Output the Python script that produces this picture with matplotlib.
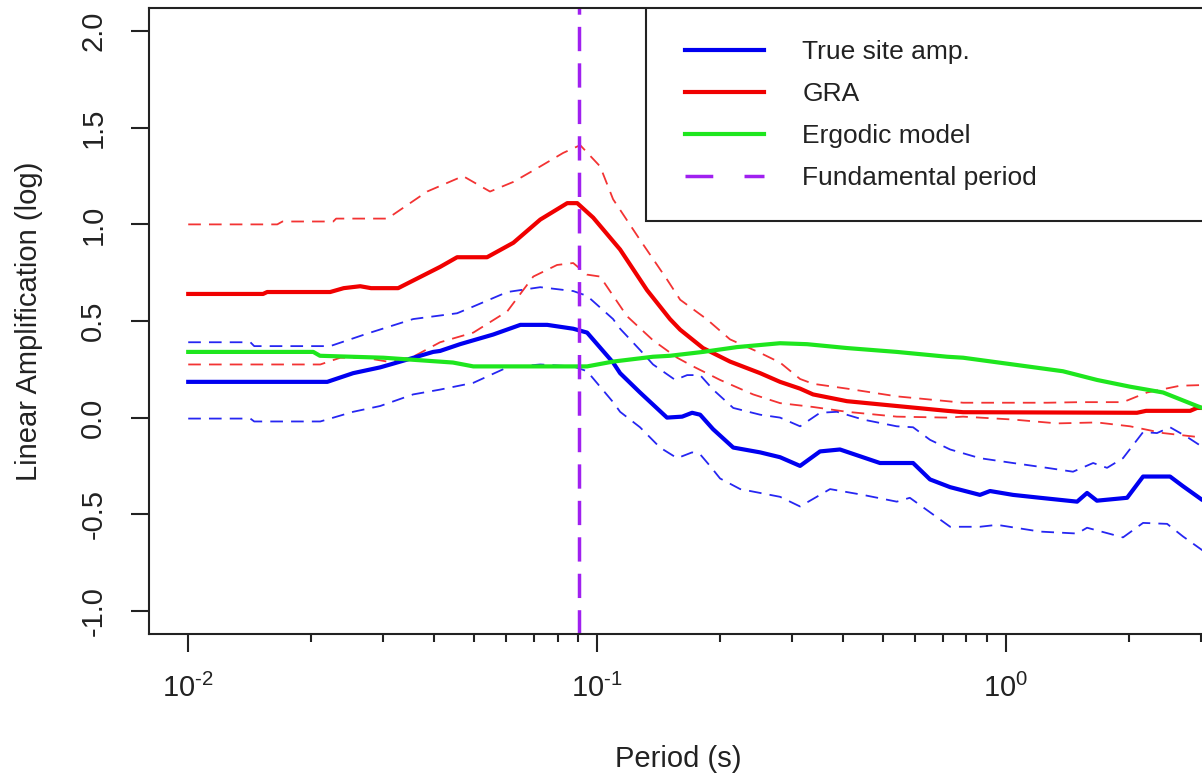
import numpy as np
import matplotlib
matplotlib.use("Agg")
import matplotlib.pyplot as plt
from matplotlib.lines import Line2D
from matplotlib.patches import Rectangle

plt.rcParams['font.family'] = ['Liberation Sans', 'DejaVu Sans']
plt.rcParams['mathtext.fontset'] = 'custom'
plt.rcParams['mathtext.rm'] = 'Liberation Sans'
plt.rcParams['mathtext.it'] = 'Liberation Sans'

# ---------------- data ----------------
true_T = [0.0100, 0.02188, 0.02531, 0.02947, 0.03428, 0.03971, 0.0413, 0.0462, 0.0557, 0.0649,
          0.0755, 0.0874, 0.0945, 0.1094, 0.1138, 0.1273, 0.1482, 0.1614, 0.1707, 0.1786,
          0.1921, 0.2152, 0.2504, 0.2801, 0.3135, 0.3508, 0.3925, 0.4916, 0.5924, 0.6517,
          0.7299, 0.8634, 0.9138, 1.040, 1.211, 1.492, 1.578, 1.668, 1.977, 2.163,
          2.518, 2.708, 3.013, 3.2]
true_amp = [0.185, 0.185, 0.23, 0.26, 0.30, 0.34, 0.345, 0.38, 0.43, 0.48,
            0.48, 0.46, 0.44, 0.285, 0.23, 0.13, 0.0, 0.005, 0.025, 0.015,
            -0.06, -0.155, -0.18, -0.205, -0.25, -0.175, -0.165, -0.235, -0.235, -0.32,
            -0.36, -0.40, -0.38, -0.40, -0.415, -0.435, -0.39, -0.43, -0.415, -0.305,
            -0.305, -0.355, -0.425, -0.45]

true_hi_T = [0.0100, 0.01419, 0.0145, 0.02224, 0.02742, 0.03548, 0.04545, 0.0498, 0.0603, 0.0726,
             0.0874, 0.0945, 0.1094, 0.1138, 0.1273, 0.1370, 0.1552, 0.1660, 0.1786, 0.1921,
             0.2152, 0.2504, 0.2801, 0.3135, 0.3508, 0.3860, 0.4467, 0.5404, 0.5924, 0.6517,
             0.7299, 0.8634, 1.040, 1.259, 1.458, 1.633, 1.766, 1.932, 2.163, 2.339,
             2.518, 2.771, 3.013, 3.2]
true_hi = [0.39, 0.39, 0.37, 0.37, 0.435, 0.51, 0.54, 0.575, 0.65, 0.675,
           0.655, 0.63, 0.51, 0.46, 0.35, 0.275, 0.195, 0.22, 0.22, 0.145,
           0.05, 0.015, 0.0, -0.045, 0.025, 0.03, -0.01, -0.045, -0.05, -0.115,
           -0.165, -0.21, -0.235, -0.26, -0.28, -0.235, -0.26, -0.21, -0.075, -0.08,
           -0.05, -0.10, -0.15, -0.17]

true_lo_T = [0.0100, 0.01419, 0.0145, 0.02104, 0.02531, 0.02947, 0.03548, 0.04130, 0.0498, 0.0603,
             0.0726, 0.0874, 0.0945, 0.1094, 0.1138, 0.1273, 0.1425, 0.1569, 0.1707, 0.1786,
             0.1888, 0.1998, 0.2238, 0.2801, 0.3135, 0.3712, 0.4467, 0.5404, 0.5817, 0.6517,
             0.7299, 0.8634, 0.9503, 1.211, 1.492, 1.578, 1.932, 2.163, 2.477, 2.708,
             3.013, 3.2]
true_lo = [-0.005, -0.005, -0.02, -0.02, 0.03, 0.06, 0.12, 0.145, 0.18, 0.26,
           0.275, 0.265, 0.24, 0.08, 0.03, -0.05, -0.155, -0.21, -0.18, -0.19,
           -0.25, -0.315, -0.37, -0.41, -0.46, -0.37, -0.40, -0.435, -0.415, -0.49,
           -0.565, -0.565, -0.555, -0.59, -0.60, -0.57, -0.62, -0.545, -0.55, -0.615,
           -0.685, -0.72]

gra_T = [0.0100, 0.01524, 0.01560, 0.02224, 0.02400, 0.02634, 0.0280, 0.03261, 0.0413, 0.04545,
         0.0538, 0.0624, 0.0726, 0.0845, 0.0894, 0.0978, 0.1138, 0.1324, 0.1507, 0.1596,
         0.1815, 0.2113, 0.2504, 0.2801, 0.3135, 0.3373, 0.4083, 0.5404, 0.7178, 0.7849,
         2.09, 2.2, 2.82, 2.93, 3.2]
gra_amp = [0.64, 0.64, 0.65, 0.65, 0.67, 0.68, 0.67, 0.67, 0.78, 0.83,
           0.83, 0.905, 1.025, 1.11, 1.11, 1.035, 0.87, 0.66, 0.51, 0.455,
           0.36, 0.29, 0.23, 0.185, 0.15, 0.12, 0.085, 0.06, 0.035, 0.028,
           0.025, 0.035, 0.035, 0.05, 0.05]

gra_hi_T = [0.0100, 0.01651, 0.0170, 0.02263, 0.0230, 0.03069, 0.03839, 0.0470, 0.0547, 0.0624,
            0.0726, 0.0826, 0.0909, 0.1017, 0.1094, 0.1273, 0.1482, 0.1596, 0.1852, 0.2113,
            0.2504, 0.2801, 0.3135, 0.3373, 0.4083, 0.5404, 0.7178, 0.7849, 0.9503, 1.259,
            1.517, 1.932, 2.212, 2.663, 3.2]
gra_hi = [1.00, 1.00, 1.015, 1.015, 1.03, 1.03, 1.17, 1.25, 1.17, 1.22,
          1.30, 1.37, 1.41, 1.30, 1.13, 0.92, 0.715, 0.61, 0.51, 0.405,
          0.335, 0.285, 0.20, 0.175, 0.15, 0.11, 0.085, 0.077, 0.077, 0.077,
          0.08, 0.08, 0.13, 0.165, 0.17]

gra_lo_T = [0.0100, 0.02104, 0.02354, 0.02700, 0.03069, 0.03548, 0.0413, 0.0498, 0.0603, 0.0698,
            0.0798, 0.0874, 0.0945, 0.1017, 0.1183, 0.1370, 0.1569, 0.1717, 0.1998, 0.2407,
            0.2801, 0.3373, 0.4083, 0.5404, 0.7178, 0.7849, 1.040, 1.333, 1.668, 2.010,
            2.421, 2.931, 3.2]
gra_lo = [0.275, 0.275, 0.31, 0.31, 0.29, 0.315, 0.39, 0.44, 0.55, 0.73,
          0.79, 0.80, 0.74, 0.73, 0.525, 0.40, 0.31, 0.265, 0.195, 0.12,
          0.075, 0.055, 0.03, 0.005, 0.0, 0.005, -0.01, -0.03, -0.025, -0.045,
          -0.08, -0.10, -0.11]

erg_T = [0.0100, 0.02022, 0.0210, 0.0300, 0.0444, 0.0498, 0.0945, 0.1094, 0.1370, 0.1507,
         0.1815, 0.2199, 0.2801, 0.3262, 0.4083, 0.5404, 0.7178, 0.7849, 1.040, 1.377,
         1.668, 2.010, 2.421, 2.931, 3.2]
erg_amp = [0.34, 0.34, 0.32, 0.31, 0.285, 0.265, 0.265, 0.29, 0.315, 0.32,
           0.34, 0.365, 0.385, 0.38, 0.36, 0.34, 0.315, 0.31, 0.275, 0.24,
           0.195, 0.16, 0.13, 0.06, 0.03]

fundamental_period = 0.0904
period_range = (0.01, 2.5)
y_range = (-1.0, 2.0)
y_ticks = [-1.0, -0.5, 0.0, 0.5, 1.0, 1.5, 2.0]
x_ticks = [0.01, 0.1, 1.0]
x_ticklabels = [r'$10^{\text{-}2}$', r'$10^{\text{-}1}$', r'$10^{0}$']
legend_labels = ['True site amp.', 'GRA', 'Ergodic model', 'Fundamental period']

# ---------------- styles ----------------
BLUE = '#0000F0'
RED = '#F00000'
GREEN = '#1EE61E'
PURPLE = '#A020F0'
MAIN_LW = 3.0
CI_LW = 1.3
CI_DASH = (7.0, 4.5)
FS_TICK = 21
FS_LAB = 21
FS_LEG = 19

fig = plt.figure(figsize=(12.02, 7.79), dpi=100)
W, H = 1202, 779
ax_l, ax_r, ax_t, ax_b = 149, 1208, 8, 634
ax = fig.add_axes([ax_l / W, 1 - ax_b / H, (ax_r - ax_l) / W, (ax_b - ax_t) / H])

ax.set_xscale('log')

ax.plot(true_hi_T, true_hi, color=BLUE, lw=CI_LW, dashes=CI_DASH, alpha=0.85)
ax.plot(true_lo_T, true_lo, color=BLUE, lw=CI_LW, dashes=CI_DASH, alpha=0.85)
ax.plot(gra_hi_T, gra_hi, color=RED, lw=CI_LW, dashes=CI_DASH, alpha=0.8)
ax.plot(gra_lo_T, gra_lo, color=RED, lw=CI_LW, dashes=CI_DASH, alpha=0.8)
ax.plot(true_T, true_amp, color=BLUE, lw=MAIN_LW, solid_joinstyle='round')
ax.plot(gra_T, gra_amp, color=RED, lw=MAIN_LW, solid_joinstyle='round')
ax.plot(erg_T, erg_amp, color=GREEN, lw=MAIN_LW, solid_joinstyle='round')
ax.axvline(fundamental_period, color=PURPLE, lw=2.5, dashes=(7.0, 3.5))

# axes styling
for sp in ax.spines.values():
    sp.set_linewidth(1.5)
    sp.set_color('#222222')

ax.set_xticks(x_ticks)
ax.set_xticklabels(x_ticklabels, fontsize=FS_TICK)
minor = [m * 10.0 ** e for e in (-2, -1, 0) for m in range(2, 10)]
ax.set_xticks(minor, minor=True)
ax.xaxis.set_minor_formatter(matplotlib.ticker.NullFormatter())
ax.tick_params(axis='x', which='major', length=13, width=1.5, pad=16, direction='out', colors='#222222')
ax.tick_params(axis='x', which='minor', length=6, width=1.5, direction='out', colors='#222222')

ax.set_yticks(y_ticks)
ax.set_yticklabels([f'{v:.1f}' for v in y_ticks], fontsize=FS_TICK)
ax.tick_params(axis='y', which='major', length=13, width=1.5, pad=17, direction='out', colors='#222222')
for t in ax.get_yticklabels():
    t.set_rotation(90)
    t.set_va('center')
    t.set_ha('right')

# limits (after ticks so the tick setters don't widen them)
lo, hi = np.log10(period_range[0]), np.log10(period_range[1])
pad = 0.04 * (hi - lo)
ax.set_xlim(10 ** (lo - pad), 10 ** (hi + pad))
ypad = 0.04 * (y_range[1] - y_range[0])
ax.set_ylim(y_range[0] - ypad, y_range[1] + ypad)

ax.set_xlabel('Period (s)', fontsize=FS_LAB, labelpad=30, color='#222222')
ax.set_ylabel('Linear Amplification (log)', fontsize=FS_LAB, labelpad=26, color='#222222')

# legend box
x0 = (646 - ax_l) / (ax_r - ax_l)
y0 = (ax_b - 221) / (ax_b - ax_t)
ax.add_patch(Rectangle((x0, y0), 1.0 - x0, 1.0 - y0, transform=ax.transAxes,
                       facecolor='white', edgecolor='#222222', lw=1.5, zorder=5))
handles = [Line2D([], [], color=BLUE, lw=MAIN_LW),
           Line2D([], [], color=RED, lw=MAIN_LW),
           Line2D([], [], color=GREEN, lw=MAIN_LW),
           Line2D([], [], color=PURPLE, lw=2.5, dashes=(8, 9))]
hx = (685 - ax_l) / (ax_r - ax_l)
hy = (ax_b - 40) / (ax_b - ax_t)
leg = ax.legend(handles, legend_labels, loc='upper left', bbox_to_anchor=(hx, hy),
                frameon=False, borderpad=0, borderaxespad=0, fontsize=FS_LEG,
                handlelength=3.0, handletextpad=1.45, labelspacing=0.68)
leg.set_zorder(6)
for txt in leg.get_texts():
    txt.set_color('#222222')

fig.savefig('out.png', dpi=100)
